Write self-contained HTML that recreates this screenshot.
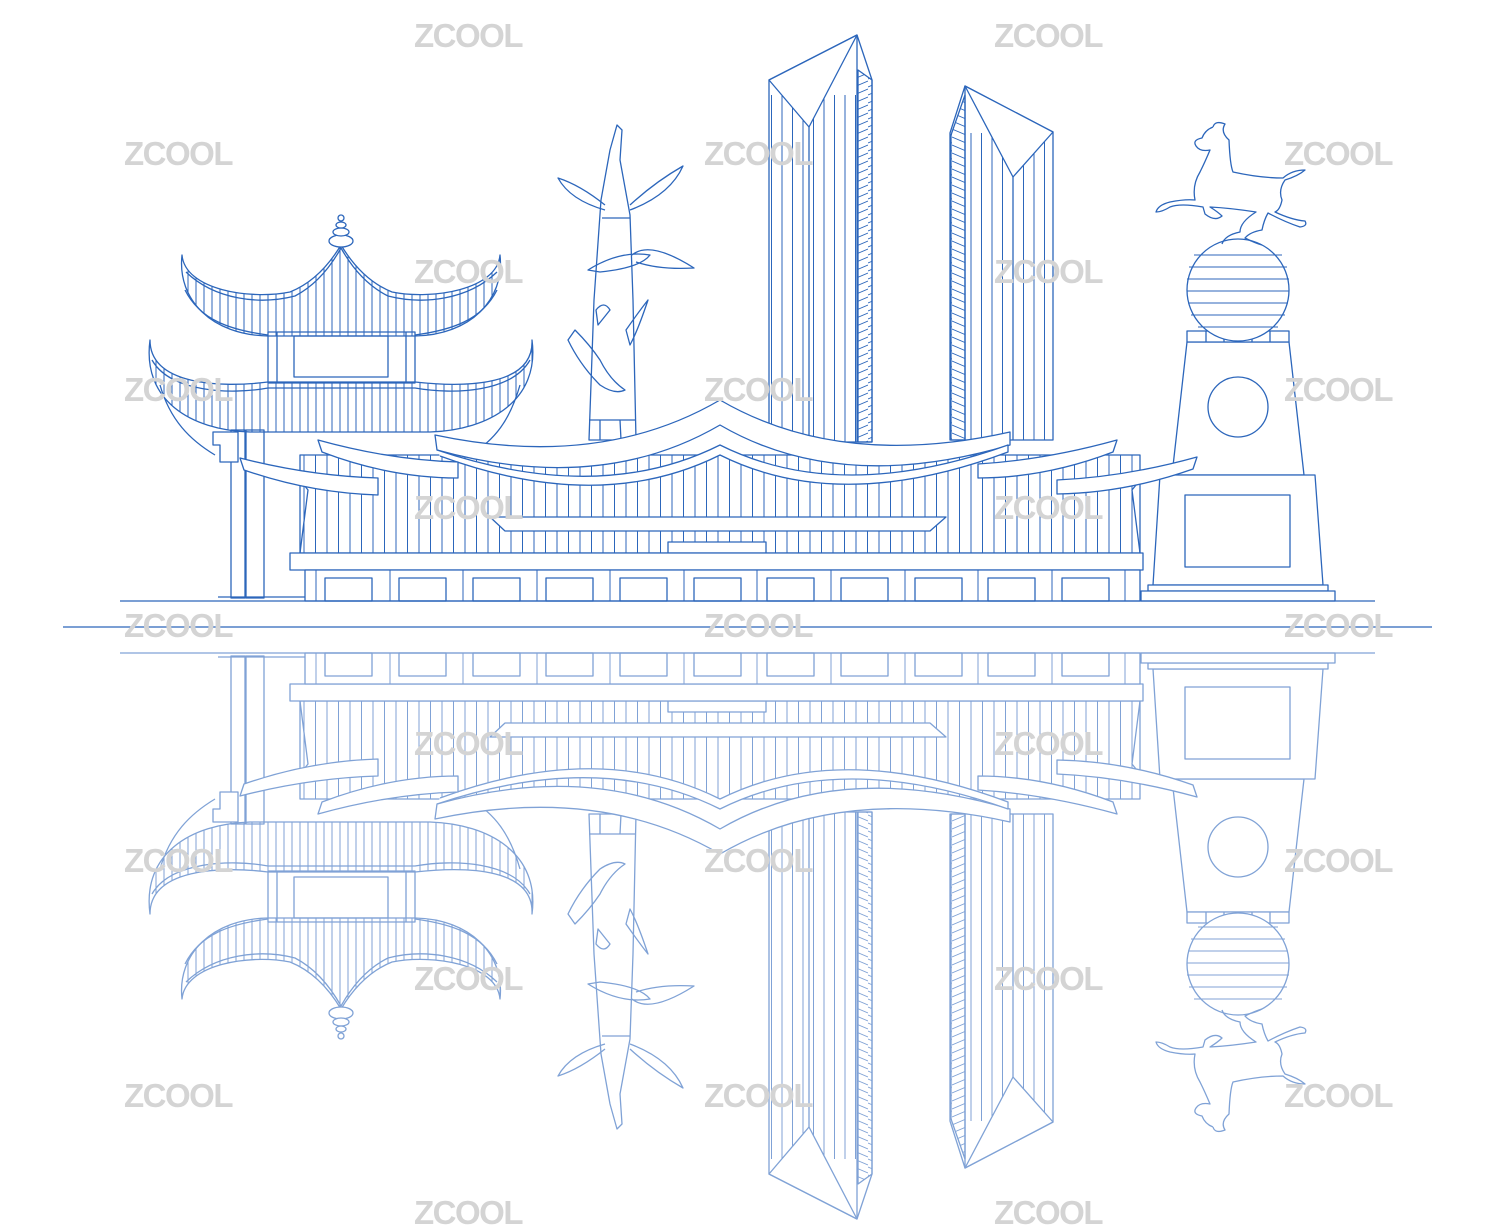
<!DOCTYPE html>
<html><head><meta charset="utf-8"><style>
html,body{margin:0;padding:0;background:#fff;}
svg{display:block;}
.wm{font-family:"Liberation Sans",sans-serif;font-weight:bold;font-size:33px;fill:#d4d4d4;letter-spacing:-1.5px;}
</style></head><body>
<svg width="1500" height="1227" viewBox="0 0 1500 1227" xmlns="http://www.w3.org/2000/svg">
<defs>
<pattern id="vl" width="8" height="10" patternUnits="userSpaceOnUse"><line x1="4" y1="0" x2="4" y2="10" stroke="#2c66bb" stroke-width="1"/></pattern>
<pattern id="vl12" width="11.5" height="10" patternUnits="userSpaceOnUse"><line x1="5" y1="0" x2="5" y2="10" stroke="#2c66bb" stroke-width="1"/></pattern>
<pattern id="hl" width="14" height="8" patternUnits="userSpaceOnUse"><line x1="0" y1="7" x2="14" y2="1" stroke="#2c66bb" stroke-width="0.9"/></pattern>
<pattern id="hl2" width="14" height="8" patternUnits="userSpaceOnUse"><line x1="0" y1="1" x2="14" y2="7" stroke="#2c66bb" stroke-width="0.9"/></pattern>
<pattern id="tv" width="10.5" height="10" patternUnits="userSpaceOnUse"><line x1="5" y1="0" x2="5" y2="10" stroke="#2c66bb" stroke-width="1"/></pattern>
</defs>
<g id="scene" fill="none" stroke="#2c66bb" stroke-width="1.3" stroke-linejoin="round">
  <!-- towers -->
  <polygon points="769,80 857,35 872,80 872,442 769,442" fill="#fff"/>
  <rect x="771" y="95" width="85" height="347" fill="url(#tv)" stroke="none"/>
  <polygon points="769,80 857,35 809,127" fill="#fff"/>
  <polygon points="858,70 872,80 872,442 858,442" fill="url(#hl)"/>
  <line x1="857" y1="35" x2="857" y2="442"/>
  <line x1="809" y1="127" x2="809" y2="442"/>
  <polygon points="950,133 965,86 1053,132 1053,440 950,440" fill="#fff"/>
  <rect x="966" y="133" width="86" height="307" fill="url(#tv)" stroke="none"/>
  <polygon points="965,86 1053,132 1013,177" fill="#fff"/>
  <polygon points="951,135 965,95 965,440 951,440" fill="url(#hl2)"/>
  <line x1="965" y1="86" x2="965" y2="440"/>
  <line x1="1013" y1="177" x2="1013" y2="440"/>

  <!-- bamboo crane sculpture -->
  <path d="M589,440 L594,300 L601,200 L610,150 L617,125 L622,130 L620,160 L630,215 L633,300 L636,440 Z" fill="#fff"/>
  <path d="M605,205 Q580,185 558,178 Q570,200 605,210 M630,205 Q655,182 683,166 Q670,195 630,210"/>
  <path d="M602,218 L630,218 M588,270 Q620,250 650,255 Q640,268 600,272 Z M632,255 Q650,240 694,268 Q660,270 636,262"/>
  <path d="M575,330 Q590,345 600,360 Q610,380 625,390 Q615,395 600,385 Q580,365 568,340 Z M626,330 Q640,310 648,300 Q638,330 630,345 Z M596,310 Q604,300 610,310 L598,325 Z"/>
  <path d="M589,420 L636,420 M600,420 L600,440 M620,420 L621,440"/>

  <!-- pavilion -->
  <rect x="231" y="430" width="14" height="168" fill="#fff"/>
  <rect x="246" y="430" width="18" height="168"/>
  <path d="M213,432 L238,432 L238,462 L220,462 L220,445 L213,445 Z" fill="#fff"/>
  <line x1="218" y1="597" x2="305" y2="597"/>
  <path d="M160,385 C170,420 190,440 215,455 M520,385 C510,420 495,440 470,455"/>
  <path d="M185,290 C200,320 230,330 268,335 M497,290 C482,320 452,330 415,335"/>
  <rect x="268" y="332" width="147" height="51" fill="#fff"/>
  <line x1="277" y1="332" x2="277" y2="383"/><line x1="406" y1="332" x2="406" y2="383"/>
  <rect x="294" y="336" width="94" height="41"/>
  <path d="M182,255 C185,290 250,300 290,292 Q320,280 341,245 Q362,280 392,292 C432,300 497,290 500,255 C505,300 470,335 415,336 L268,336 C212,335 177,300 182,255 Z" fill="url(#vl)"/>
  <path d="M186,272 C215,300 260,305 295,296 Q322,282 341,248 Q360,282 388,296 C423,305 468,300 497,272"/>
  <ellipse cx="341" cy="241" rx="12" ry="6" fill="#fff"/>
  <ellipse cx="341" cy="232" rx="8" ry="4" fill="#fff"/>
  <ellipse cx="341" cy="225" rx="5" ry="3" fill="#fff"/>
  <circle cx="341" cy="218" r="3" fill="#fff"/>
  <path d="M150,340 C150,385 220,388 268,382 L415,382 C470,388 534,385 532,340 C540,400 490,430 430,432 L250,432 C190,430 142,400 150,340 Z" fill="url(#vl)"/>
  <path d="M152,360 C170,392 230,395 268,388 L415,388 C455,395 512,392 530,360"/>

  <!-- monument -->
  <polygon points="1187,342 1289,342 1304,475 1172,475" fill="#fff"/>
  <circle cx="1238" cy="407" r="30"/>
  <polygon points="1160,475 1315,475 1323,585 1153,585" fill="#fff"/>
  <rect x="1185" y="495" width="105" height="72"/>
  <rect x="1148" y="585" width="180" height="6" fill="#fff"/>
  <rect x="1141" y="591" width="194" height="10" fill="#fff"/>
  <rect x="1187" y="331" width="102" height="11" fill="#fff"/>
  <path d="M1206,331 v11 M1224,331 v11 M1252,331 v11 M1270,331 v11"/>
  <circle cx="1238" cy="290" r="51" fill="#fff"/>
  <g stroke-width="1.1">
    <line x1="1194" y1="255" x2="1282" y2="255"/><line x1="1189" y1="267" x2="1287" y2="267"/><line x1="1187" y1="279" x2="1289" y2="279"/><line x1="1187" y1="291" x2="1289" y2="291"/><line x1="1188" y1="303" x2="1288" y2="303"/><line x1="1191" y1="315" x2="1285" y2="315"/><line x1="1198" y1="327" x2="1278" y2="327"/>
  </g>
  <path d="M1213,127 Q1215,120 1225,124 Q1220,132 1229,140 Q1230,165 1233,172 Q1260,178 1283,178 Q1292,170 1305,170 Q1298,176 1285,180 Q1278,190 1282,200 Q1280,210 1275,212 Q1292,220 1305,221 Q1308,226 1300,227 Q1285,222 1268,213 Q1264,220 1262,230 Q1250,232 1245,238 Q1255,243 1262,245 M1222,244 Q1225,235 1240,232 Q1240,222 1256,212 Q1230,208 1210,207 Q1218,212 1222,216 Q1215,222 1205,214 L1203,207 Q1180,203 1170,207 Q1162,212 1156,212 Q1158,205 1170,202 Q1185,199 1195,200 Q1192,185 1200,172 Q1205,162 1210,150 Q1200,152 1196,146 Q1192,140 1202,138 Q1205,130 1213,127"/>

  <!-- central hall -->
  <rect x="300" y="455" width="840" height="98" fill="url(#vl12)"/>
  <path d="M300,480 L308,490 L300,553 M1140,480 L1132,490 L1140,553"/>
  <polygon points="490,517 946,517 930,531 505,531" fill="#fff"/>
  <rect x="668" y="542" width="98" height="11" fill="#fff"/>
  <path d="M435,435 Q600,470 720,400 Q840,470 1010,432 L1010,445 Q840,495 720,425 Q600,495 437,450 Z" fill="#fff"/>
  <path d="M437,450 Q600,505 720,445 Q840,505 1008,445 L1008,452 Q840,515 720,455 Q600,515 440,456" fill="#fff"/>
  <path d="M318,440 Q390,460 458,462 L458,478 Q390,478 322,452 Z" fill="#fff"/>
  <path d="M240,458 Q310,476 378,478 L378,495 Q310,493 244,470 Z" fill="#fff"/>
  <path d="M1117,440 Q1045,460 978,464 L978,478 Q1045,478 1113,452 Z" fill="#fff"/>
  <path d="M1197,457 Q1125,477 1057,480 L1057,494 Q1125,493 1193,469 Z" fill="#fff"/>
  <rect x="290" y="553" width="853" height="17" fill="#fff"/>
  <rect x="305" y="570" width="835" height="31" fill="#fff"/>
  <g>
    <rect x="325" y="578" width="47" height="23"/><rect x="399" y="578" width="47" height="23"/>
    <rect x="473" y="578" width="47" height="23"/><rect x="546" y="578" width="47" height="23"/>
    <rect x="620" y="578" width="47" height="23"/><rect x="694" y="578" width="47" height="23"/>
    <rect x="767" y="578" width="47" height="23"/><rect x="841" y="578" width="47" height="23"/>
    <rect x="915" y="578" width="47" height="23"/><rect x="988" y="578" width="47" height="23"/>
    <rect x="1062" y="578" width="47" height="23"/>
  </g>
  <g stroke-width="1">
    <line x1="316" y1="570" x2="316" y2="601"/><line x1="390" y1="570" x2="390" y2="601"/><line x1="463" y1="570" x2="463" y2="601"/><line x1="537" y1="570" x2="537" y2="601"/><line x1="610" y1="570" x2="610" y2="601"/><line x1="684" y1="570" x2="684" y2="601"/><line x1="757" y1="570" x2="757" y2="601"/><line x1="831" y1="570" x2="831" y2="601"/><line x1="905" y1="570" x2="905" y2="601"/><line x1="978" y1="570" x2="978" y2="601"/><line x1="1052" y1="570" x2="1052" y2="601"/><line x1="1125" y1="570" x2="1125" y2="601"/>
  </g>

  <line x1="120" y1="601" x2="1375" y2="601"/>
</g>
<use href="#scene" transform="translate(0,1254) scale(1,-1)" opacity="0.6"/>
<line x1="63" y1="627" x2="1432" y2="627" stroke="#2c66bb" stroke-width="1.3"/>
<g class="wm" text-anchor="middle">
  <text x="468" y="47">ZCOOL</text><text x="1048" y="47">ZCOOL</text>
  <text x="178" y="165">ZCOOL</text><text x="758" y="165">ZCOOL</text><text x="1338" y="165">ZCOOL</text>
  <text x="468" y="283">ZCOOL</text><text x="1048" y="283">ZCOOL</text>
  <text x="178" y="401">ZCOOL</text><text x="758" y="401">ZCOOL</text><text x="1338" y="401">ZCOOL</text>
  <text x="468" y="519">ZCOOL</text><text x="1048" y="519">ZCOOL</text>
  <text x="178" y="637">ZCOOL</text><text x="758" y="637">ZCOOL</text><text x="1338" y="637">ZCOOL</text>
  <text x="468" y="755">ZCOOL</text><text x="1048" y="755">ZCOOL</text>
  <text x="178" y="872">ZCOOL</text><text x="758" y="872">ZCOOL</text><text x="1338" y="872">ZCOOL</text>
  <text x="468" y="990">ZCOOL</text><text x="1048" y="990">ZCOOL</text>
  <text x="178" y="1107">ZCOOL</text><text x="758" y="1107">ZCOOL</text><text x="1338" y="1107">ZCOOL</text>
  <text x="468" y="1224">ZCOOL</text><text x="1048" y="1224">ZCOOL</text>
</g>
</svg>
</body></html>
